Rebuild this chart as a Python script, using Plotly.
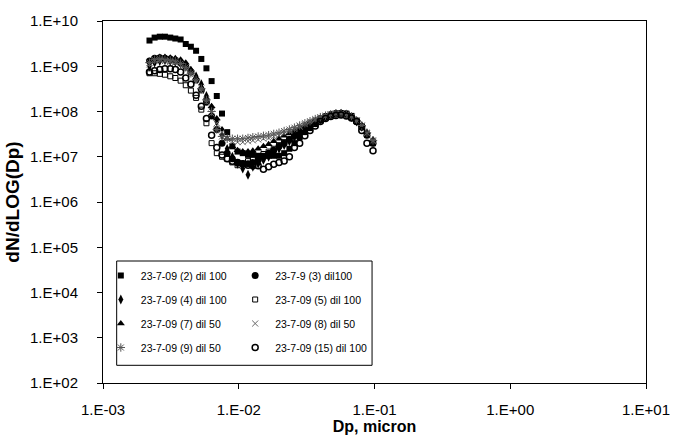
import plotly.graph_objects as go

# Particle diameter, micron (shared size channels)
dp = [0.00220, 0.00240, 0.00262, 0.00286, 0.00313, 0.00341, 0.00373, 0.00407,
      0.00444, 0.00485, 0.00530, 0.00578, 0.00631, 0.00689, 0.00753, 0.00822,
      0.00897, 0.00980, 0.0107, 0.0117, 0.0127, 0.0139, 0.0152, 0.0166,
      0.0181, 0.0198, 0.0216, 0.0236, 0.0257, 0.0281, 0.0307, 0.0335,
      0.0366, 0.0399, 0.0436, 0.0476, 0.0520, 0.0567, 0.0620, 0.0676,
      0.0738, 0.0806, 0.0880, 0.0975]

s2 = [3.7e9, 4.3e9, 4.5e9, 4.5e9, 4.3e9, 4.1e9, 3.9e9, 3.1e9, 2.7e9, 2.2e9,
      1.45e9, 9.0e8, 4.7e8, 2.2e8, 9.0e7, 3.5e7, 1.7e7, 1.3e7, 1.2e7, 1.1e7,
      1.1e7, 1.05e7, 1.05e7, 1.05e7, 1.05e7, 1.05e7, 1.2e7, 1.5e7, 2.0e7, 2.7e7,
      3.5e7, 4.3e7, 5.3e7, 6.3e7, 7.3e7, 8.2e7, 8.8e7, 9.1e7, 9.0e7, 8.0e7,
      6.3e7, 4.7e7, 3.1e7, 2.0e7]
s3 = [1.3e9, 1.5e9, 1.55e9, 1.5e9, 1.45e9, 1.35e9, 1.2e9, 1.0e9, 7.5e8, 5.0e8,
      3.0e8, 1.6e8, 8.0e7, 4.0e7, 2.0e7, 1.2e7, 9.0e6, 7.5e6, 7.0e6, 7.0e6,
      7.5e6, 8.5e6, 1.0e7, 1.2e7, 1.4e7, 1.7e7, 2.0e7, 2.4e7, 2.9e7, 3.5e7,
      4.2e7, 5.0e7, 5.9e7, 6.8e7, 7.7e7, 8.5e7, 9.0e7, 9.2e7, 8.8e7, 7.6e7,
      6.0e7, 4.5e7, 3.0e7, 2.0e7]
s4 = [1.0e9, 1.2e9, 1.3e9, 1.35e9, 1.3e9, 1.25e9, 1.15e9, 1.0e9, 8.0e8, 6.0e8,
      4.0e8, 2.2e8, 1.2e8, 6.0e7, 3.0e7, 1.5e7, 1.0e7, 7.0e6, 5.5e6, 4.0e6,
      6.0e6, 7.0e6, 8.5e6, 1.0e7, 1.2e7, 1.5e7, 1.8e7, 2.2e7, 2.7e7, 3.3e7,
      4.0e7, 4.8e7, 5.7e7, 6.6e7, 7.5e7, 8.3e7, 8.8e7, 9.0e7, 8.6e7, 7.5e7,
      6.0e7, 4.6e7, 3.2e7, 2.1e7]
s5 = [7.0e8, 7.0e8, 6.8e8, 6.5e8, 6.0e8, 5.5e8, 4.8e8, 3.8e8, 2.9e8, 2.0e8,
      1.1e8, 5.5e7, 2.0e7, 1.2e7, 1.0e7, 9.0e6, 7.5e6, 6.5e6, 7.0e6, 8.0e6,
      9.0e6, 1.0e7, 1.15e7, 1.3e7, 1.5e7, 1.8e7, 2.1e7, 2.5e7, 3.0e7, 3.6e7,
      4.3e7, 5.1e7, 6.0e7, 6.9e7, 7.8e7, 8.5e7, 9.0e7, 9.1e7, 8.7e7, 7.6e7,
      6.1e7, 4.6e7, 3.1e7, 2.0e7]
s7 = [1.3e9, 1.5e9, 1.6e9, 1.6e9, 1.55e9, 1.5e9, 1.4e9, 1.2e9, 8.5e8, 5.5e8,
      3.4e8, 2.0e8, 1.3e8, 7.0e7, 4.0e7, 2.5e7, 1.7e7, 1.4e7, 1.3e7, 1.3e7,
      1.35e7, 1.5e7, 1.7e7, 1.9e7, 2.2e7, 2.5e7, 2.9e7, 3.3e7, 3.8e7, 4.4e7,
      5.0e7, 5.7e7, 6.4e7, 7.2e7, 8.0e7, 8.7e7, 9.2e7, 9.3e7, 9.0e7, 8.0e7,
      6.5e7, 5.0e7, 3.5e7, 2.4e7]
s8 = [1.1e9, 1.3e9, 1.35e9, 1.3e9, 1.25e9, 1.2e9, 1.05e9, 8.5e8, 6.5e8, 4.5e8,
      2.8e8, 1.6e8, 9.0e7, 5.5e7, 3.5e7, 2.6e7, 2.2e7, 2.1e7, 2.1e7, 2.2e7,
      2.3e7, 2.4e7, 2.5e7, 2.6e7, 2.8e7, 3.0e7, 3.3e7, 3.7e7, 4.1e7, 4.6e7,
      5.2e7, 5.8e7, 6.5e7, 7.2e7, 7.9e7, 8.5e7, 8.9e7, 9.0e7, 8.6e7, 7.6e7,
      6.2e7, 4.8e7, 3.3e7, 2.2e7]
s9 = [1.2e9, 1.4e9, 1.45e9, 1.4e9, 1.35e9, 1.3e9, 1.15e9, 9.5e8, 7.0e8, 5.0e8,
      3.2e8, 1.8e8, 1.0e8, 4.0e7, 2.8e7, 2.5e7, 2.5e7, 2.5e7, 2.5e7, 2.6e7,
      2.7e7, 2.8e7, 2.9e7, 3.0e7, 3.2e7, 3.4e7, 3.7e7, 4.0e7, 4.4e7, 4.9e7,
      5.5e7, 6.1e7, 6.8e7, 7.5e7, 8.1e7, 8.6e7, 9.0e7, 9.1e7, 8.7e7, 7.7e7,
      6.3e7, 4.9e7, 3.4e7, 2.3e7]
s15 = [7.5e8, 8.0e8, 8.5e8, 8.8e8, 8.8e8, 8.5e8, 7.5e8, 5.5e8, 4.0e8, 2.3e8,
       1.3e8, 7.0e7, 3.0e7, 1.6e7, 1.1e7, 9.0e6, 8.0e6, 7.5e6, 7.0e6, 6.5e6,
       6.3e6, 6.3e6, 5.3e6, 6.0e6, 6.8e6, 7.5e6, 8.1e6, 1.0e7, 1.6e7, 2.0e7,
       2.9e7, 3.8e7, 4.8e7, 6.0e7, 7.0e7, 7.8e7, 8.2e7, 8.4e7, 8.0e7, 7.2e7,
       6.0e7, 3.8e7, 2.0e7, 1.35e7]

names = ["23-7-09 (2) dil 100", "23-7-9 (3) dil100", "23-7-09 (4) dil 100",
         "23-7-09 (5) dil 100", "23-7-09 (7) dil 50", "23-7-09 (8) dil 50",
         "23-7-09 (9) dil 50", "23-7-09 (15) dil 100"]
series = [s2, s3, s4, s5, s7, s8, s9, s15]
legend_ref = ["legend", "legend2", "legend", "legend2",
              "legend", "legend2", "legend", "legend2"]

x_tickvals = [1e-3, 1e-2, 1e-1, 1e0, 1e1]
x_ticktext = ["1.E-03", "1.E-02", "1.E-01", "1.E+00", "1.E+01"]
y_tickvals = [1e2, 1e3, 1e4, 1e5, 1e6, 1e7, 1e8, 1e9, 1e10]
y_ticktext = ["1.E+02", "1.E+03", "1.E+04", "1.E+05", "1.E+06", "1.E+07",
              "1.E+08", "1.E+09", "1.E+10"]

styles = [
    dict(symbol="square", size=6, color="black"),
    dict(symbol="circle", size=7, color="black"),
    dict(symbol="diamond-tall", size=7, color="black"),
    dict(symbol="square-open", size=5, color="black", line=dict(width=1, color="black")),
    dict(symbol="triangle-up", size=7, color="black"),
    dict(symbol="x-thin-open", size=6, color="#666666", line=dict(width=1, color="#666666")),
    dict(symbol="asterisk-open", size=7, color="#555555", line=dict(width=1, color="#555555")),
    dict(symbol="circle-open", size=6, color="black", line=dict(width=1.5, color="black")),
]

FONT = "Liberation Sans, Arial, sans-serif"
fig = go.Figure()
for i, (nm, ys, st, lg) in enumerate(zip(names, series, styles, legend_ref)):
    fig.add_trace(go.Scatter(x=dp, y=ys, mode="markers", name=nm, marker=st,
                             legend=lg, legendgroup="g%d" % i))

axis_common = dict(
    showline=True, linecolor="black", linewidth=1, mirror=True,
    ticks="outside", ticklen=5, tickcolor="black", showgrid=False, zeroline=False,
    tickfont=dict(family=FONT, size=15, color="black"),
)
fig.update_xaxes(type="log", range=[-3, 1], tickvals=x_tickvals, ticktext=x_ticktext,
                 ticklabelstandoff=8,
                 title=dict(text="<b>Dp, micron</b>", standoff=0,
                            font=dict(family=FONT, size=16, color="black")),
                 **axis_common)
fig.update_yaxes(type="log", range=[2, 10], tickvals=y_tickvals, ticktext=y_ticktext,
                 ticklabelstandoff=16,
                 title=dict(text="<b>dN/dLOG(Dp)</b>", standoff=5,
                            font=dict(family=FONT, size=19, color="black")),
                 **axis_common)

leg_common = dict(orientation="v", xanchor="left", yanchor="top", tracegroupgap=5,
                  bgcolor="rgba(0,0,0,0)", borderwidth=0,
                  font=dict(family=FONT, size=10.5, color="black"))
fig.update_layout(
    width=682, height=443,
    margin=dict(l=102, r=25, t=15, b=60),
    paper_bgcolor="white", plot_bgcolor="white",
    font=dict(family=FONT, color="black"),
    legend=dict(x=-0.004, y=0.337, **leg_common),
    legend2=dict(x=0.2434, y=0.337, **leg_common),
    shapes=[dict(type="rect", xref="paper", yref="paper",
                 x0=0.0252, x1=0.4955, y0=0.0489, y1=0.337,
                 line=dict(color="black", width=1), fillcolor="rgba(0,0,0,0)")],
)

fig.write_html("out.html")
